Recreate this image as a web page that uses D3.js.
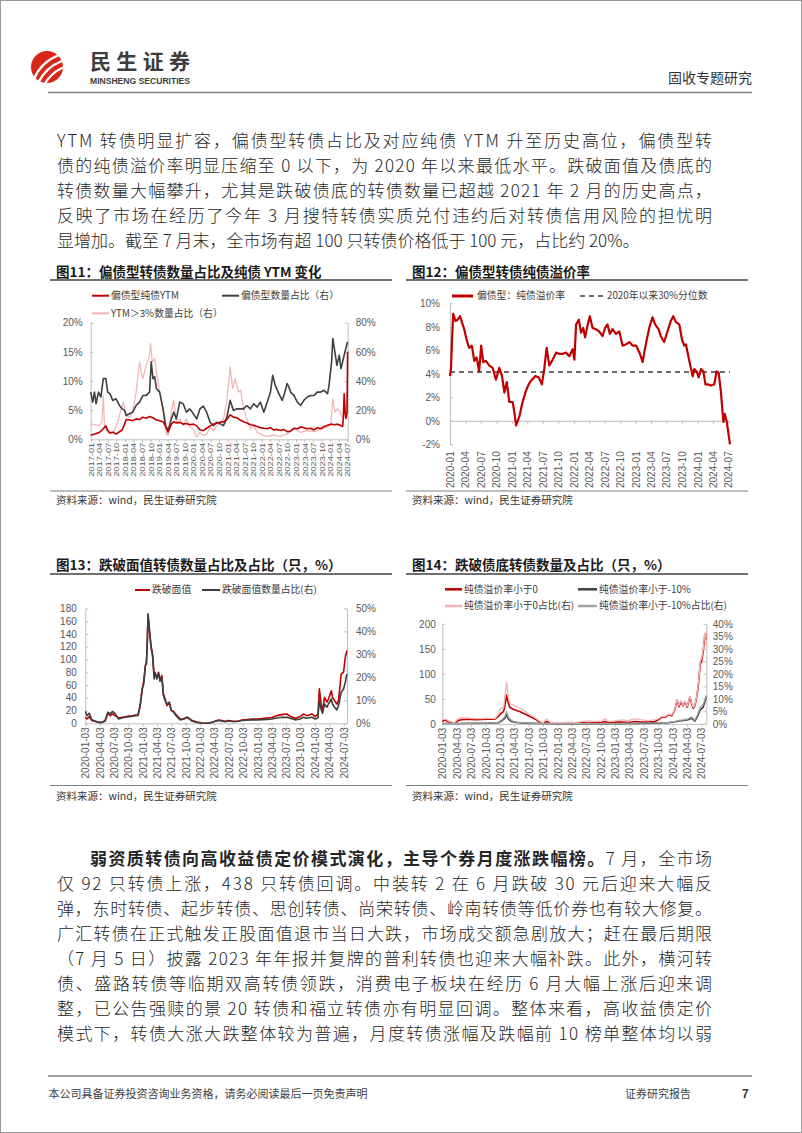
<!DOCTYPE html>
<html><head><meta charset="utf-8">
<script src="https://cdn.jsdelivr.net/npm/d3@7"></script>
<style>body{margin:0;background:#fff}svg{display:block}</style>
</head><body>
<script>
// ---------------- DATA ----------------
const c11Ticks=["2017-01","2017-04","2017-07","2017-10","2018-01","2018-04","2018-07","2018-10","2019-01","2019-04","2019-07","2019-10","2020-01","2020-04","2020-07","2020-10","2021-01","2021-04","2021-07","2021-10","2022-01","2022-04","2022-07","2022-10","2023-01","2023-04","2023-07","2023-10","2024-01","2024-04","2024-07"];
const c12Ticks=["2020-01","2020-04","2020-07","2020-10","2021-01","2021-04","2021-07","2021-10","2022-01","2022-04","2022-07","2022-10","2023-01","2023-04","2023-07","2023-10","2024-01","2024-04","2024-07"];
const c1314Ticks=["2020-01-03","2020-04-03","2020-07-03","2020-10-03","2021-01-03","2021-04-03","2021-07-03","2021-10-03","2022-01-03","2022-04-03","2022-07-03","2022-10-03","2023-01-03","2023-04-03","2023-07-03","2023-10-03","2024-01-03","2024-04-03","2024-07-03"];
const c11LeftTicks=[0,5,10,15,20], c11RightTicks=[0,20,40,60,80];
const c12Ticks_y=[-2,0,2,4,6,8,10];
const c13LeftTicks=[0,20,40,60,80,100,120,140,160,180], c13RightTicks=[0,10,20,30,40,50];
const c14LeftTicks=[0,50,100,150,200], c14RightTicks=[0,5,10,15,20,25,30,35,40];
const c12Pct30=4.15;

// 图11 偏债型纯债YTM (%, left)
const c11Red=[["2017-01-01",0.7],["2017-02-10",0.9],["2017-03-25",1.1],["2017-04-20",1.4],["2017-05-15",1.8],["2017-06-12",2.3],["2017-07-01",1.5],["2017-07-25",1.1],["2017-08-24",1.2],["2017-09-28",0.9],["2017-11-04",1.3],["2017-12-03",1.6],["2017-12-28",2.6],["2018-01-15",3.4],["2018-02-18",3.3],["2018-03-25",3.2],["2018-05-01",3.5],["2018-06-06",3.4],["2018-07-12",3.8],["2018-08-16",3.6],["2018-09-21",3.9],["2018-10-27",3.7],["2018-12-03",3.3],["2019-01-07",3.2],["2019-02-12",3.0],["2019-03-12",2.2],["2019-04-06",1.2],["2019-05-12",2.6],["2019-06-06",3.0],["2019-07-04",2.8],["2019-08-09",2.9],["2019-09-15",2.6],["2019-10-19",2.7],["2019-11-25",2.5],["2020-01-01",2.6],["2020-02-06",2.3],["2020-03-12",1.6],["2020-04-16",1.5],["2020-05-22",1.9],["2020-06-28",2.3],["2020-08-03",2.6],["2020-09-07",2.8],["2020-10-13",2.9],["2020-11-18",3.0],["2020-12-24",3.4],["2021-01-28",4.2],["2021-03-04",3.8],["2021-04-09",3.7],["2021-05-15",3.3],["2021-06-19",3.0],["2021-07-25",2.8],["2021-09-01",2.5],["2021-10-06",2.4],["2021-11-12",2.2],["2021-12-16",2.0],["2022-01-22",1.9],["2022-02-27",1.8],["2022-04-03",2.0],["2022-05-06",1.6],["2022-06-10",1.7],["2022-07-18",1.5],["2022-08-24",1.7],["2022-09-28",1.3],["2022-11-04",1.4],["2022-12-09",1.9],["2023-01-15",1.8],["2023-02-19",2.1],["2023-03-25",2.0],["2023-05-01",1.8],["2023-06-06",1.9],["2023-07-12",1.6],["2023-08-16",2.0],["2023-09-21",1.8],["2023-10-27",2.2],["2023-12-03",2.4],["2024-01-07",2.6],["2024-02-19",2.5],["2024-03-18",2.6],["2024-04-16",2.4],["2024-05-12",2.2],["2024-05-21",4.0],["2024-05-28",7.8],["2024-06-06",5.0],["2024-06-16",3.6],["2024-06-28",4.5],["2024-07-04",15.0]];
// 图11 偏债型数量占比 (%, right)
const c11Dark=[["2017-01-01",32.4],["2017-01-22",25.5],["2017-02-10",32.4],["2017-02-27",24.4],["2017-03-25",32.4],["2017-04-20",29.0],["2017-05-15",41.6],["2017-06-12",41.6],["2017-07-01",32.4],["2017-07-25",31.3],["2017-08-24",26.7],["2017-09-28",27.8],["2017-11-04",23.2],["2017-12-03",20.9],["2017-12-28",19.8],["2018-01-15",16.3],["2018-02-18",17.5],["2018-03-25",18.6],["2018-05-01",23.2],["2018-06-06",25.5],["2018-07-12",30.1],["2018-08-16",30.1],["2018-09-21",32.4],["2018-10-09",53.1],["2018-10-27",41.6],["2018-11-15",42.8],["2018-12-03",34.7],["2019-01-07",32.4],["2019-02-12",20.9],["2019-03-12",9.4],["2019-04-06",6.0],["2019-05-12",14.0],["2019-06-06",18.6],["2019-07-04",14.0],["2019-08-09",25.5],["2019-09-15",24.4],["2019-10-19",18.6],["2019-11-25",20.9],["2020-01-01",17.5],["2020-02-06",14.0],["2020-03-12",20.9],["2020-04-16",22.8],["2020-05-22",18.6],["2020-06-28",11.7],["2020-08-03",9.4],["2020-09-07",11.7],["2020-10-13",10.6],["2020-11-18",9.4],["2020-12-24",15.2],["2021-01-28",26.7],["2021-03-04",19.8],["2021-04-09",20.9],["2021-05-15",20.9],["2021-06-19",20.9],["2021-07-25",23.2],["2021-09-01",20.9],["2021-10-06",24.4],["2021-11-12",22.1],["2021-12-16",25.5],["2022-01-22",18.6],["2022-02-27",25.5],["2022-04-03",32.4],["2022-04-27",43.9],["2022-05-24",37.0],["2022-07-01",31.3],["2022-08-06",26.7],["2022-08-24",30.1],["2022-09-28",38.2],["2022-10-16",35.9],["2022-11-04",32.4],["2022-12-09",30.1],["2023-01-15",25.5],["2023-02-19",23.2],["2023-03-25",26.7],["2023-05-01",29.0],["2023-06-06",30.1],["2023-07-12",30.1],["2023-08-16",32.4],["2023-09-21",32.4],["2023-10-27",33.6],["2023-12-03",31.3],["2023-12-19",37.0],["2024-01-15",53.1],["2024-01-28",69.2],["2024-02-19",60.0],["2024-03-12",50.8],["2024-04-06",57.7],["2024-04-24",48.5],["2024-05-12",53.1],["2024-05-28",57.7],["2024-06-28",65.7],["2024-07-04",66.9]];
// 图11 YTM>3%数量占比 (%, right)
const c11Pink=[["2017-01-01",10.6],["2017-04-02",9.4],["2017-05-01",11.7],["2017-05-15",30.1],["2017-05-29",8.3],["2017-07-01",4.8],["2017-08-06",3.7],["2017-09-11",6.0],["2017-10-16",11.7],["2017-11-22",20.9],["2017-12-16",25.5],["2018-01-15",16.3],["2018-02-18",15.2],["2018-03-25",18.6],["2018-05-01",32.4],["2018-06-06",53.1],["2018-06-24",46.2],["2018-07-12",41.6],["2018-08-16",50.8],["2018-09-15",55.4],["2018-10-02",65.7],["2018-10-19",53.1],["2018-11-15",55.4],["2018-12-03",46.2],["2019-01-07",32.4],["2019-02-12",18.6],["2019-03-18",3.7],["2019-04-06",2.5],["2019-05-12",18.6],["2019-06-06",27.0],["2019-07-04",11.7],["2019-08-09",14.0],["2019-09-15",9.4],["2019-10-19",14.0],["2019-11-25",8.3],["2020-01-01",7.1],["2020-02-06",1.4],["2020-03-12",4.8],["2020-04-16",2.5],["2020-05-22",3.7],["2020-06-28",8.3],["2020-08-03",6.0],["2020-09-07",9.4],["2020-10-13",11.7],["2020-11-18",14.0],["2020-12-24",26.7],["2021-01-28",49.7],["2021-02-24",34.7],["2021-03-22",41.6],["2021-04-27",32.4],["2021-05-22",33.6],["2021-06-19",20.9],["2021-07-25",14.0],["2021-09-01",7.1],["2021-10-06",9.4],["2021-11-12",4.8],["2021-12-16",3.7],["2022-01-22",2.5],["2022-02-27",2.0],["2022-05-06",3.0],["2022-07-18",2.0],["2022-09-28",3.7],["2022-12-09",7.1],["2023-02-19",4.8],["2023-05-01",6.0],["2023-07-12",5.3],["2023-09-21",7.1],["2023-12-03",8.3],["2024-01-07",10.6],["2024-01-28",27.8],["2024-02-19",18.6],["2024-03-18",20.9],["2024-04-16",18.6],["2024-05-12",14.0],["2024-05-28",30.1],["2024-06-16",18.6],["2024-07-04",34.7]];
// 图12 偏债型：纯债溢价率 (%)
const c12Red=[["2020-01-01",3.8],["2020-01-07",4.5],["2020-01-13",6.9],["2020-01-20",9.1],["2020-02-02",8.5],["2020-02-15",8.6],["2020-02-29",8.9],["2020-03-11",8.4],["2020-03-25",7.8],["2020-04-08",6.9],["2020-04-23",6.2],["2020-05-09",6.4],["2020-05-23",5.1],["2020-06-06",5.4],["2020-06-21",4.2],["2020-07-03",6.4],["2020-07-15",5.0],["2020-07-31",5.1],["2020-08-20",4.7],["2020-09-09",4.5],["2020-09-28",3.5],["2020-10-18",4.5],["2020-11-03",3.8],["2020-11-17",2.4],["2020-12-01",3.3],["2020-12-16",1.6],["2021-01-05",1.6],["2021-01-15",0.7],["2021-01-25",-0.4],["2021-02-14",0.4],["2021-03-04",1.6],["2021-03-23",2.5],["2021-04-09",3.1],["2021-04-28",3.5],["2021-05-18",3.8],["2021-06-07",3.7],["2021-06-26",3.1],["2021-07-10",4.4],["2021-07-24",6.2],["2021-08-09",4.7],["2021-08-25",5.1],["2021-09-18",5.8],["2021-10-07",5.7],["2021-10-27",5.7],["2021-11-16",5.8],["2021-12-05",5.5],["2021-12-25",6.1],["2022-01-04",5.2],["2022-01-14",8.2],["2022-01-30",8.6],["2022-02-12",7.5],["2022-02-25",7.9],["2022-03-08",7.1],["2022-03-22",8.1],["2022-04-05",8.9],["2022-04-21",7.9],["2022-05-10",7.8],["2022-05-30",7.6],["2022-06-19",7.2],["2022-07-04",7.9],["2022-07-18",8.2],["2022-08-01",7.4],["2022-08-17",7.8],["2022-09-06",7.4],["2022-09-26",7.6],["2022-10-15",6.4],["2022-11-04",6.5],["2022-11-24",6.7],["2022-12-13",6.4],["2023-01-03",6.4],["2023-01-23",5.8],["2023-02-11",5.0],["2023-02-20",5.8],["2023-03-11",7.2],["2023-03-25",8.1],["2023-04-10",8.8],["2023-04-25",8.2],["2023-05-15",7.8],["2023-05-29",7.2],["2023-06-17",6.7],["2023-07-07",7.6],["2023-07-27",8.5],["2023-08-10",8.9],["2023-08-26",8.4],["2023-09-15",8.2],["2023-10-01",6.9],["2023-10-14",6.4],["2023-10-24",6.5],["2023-11-13",5.1],["2023-12-03",3.8],["2023-12-12",4.4],["2023-12-26",4.2],["2024-01-07",3.7],["2024-01-21",4.4],["2024-02-04",4.2],["2024-02-16",3.1],["2024-03-01",3.1],["2024-03-19",3.0],["2024-04-08",3.1],["2024-04-22",4.2],["2024-05-04",4.1],["2024-05-17",2.5],["2024-06-01",-0.1],["2024-06-09",0.6],["2024-06-21",-0.1],["2024-07-10",-2.0]];
// 图13 跌破面值 (只, left) and 占比 (%, right)
const c13Dates=["2020-01-03","2020-01-14","2020-01-28","2020-02-14","2020-03-06","2020-03-27","2020-04-17","2020-05-08","2020-05-25","2020-06-10","2020-06-24","2020-07-11","2020-08-02","2020-08-23","2020-09-13","2020-10-05","2020-10-26","2020-11-16","2020-12-03","2020-12-18","2020-12-29","2021-01-09","2021-01-19","2021-01-26","2021-02-01","2021-02-05","2021-02-14","2021-02-24","2021-03-06","2021-03-16","2021-03-22","2021-04-02","2021-04-13","2021-04-23","2021-05-04","2021-05-14","2021-05-25","2021-06-05","2021-06-20","2021-07-03","2021-07-17","2021-08-08","2021-08-29","2021-09-20","2021-10-11","2021-10-25","2021-11-12","2021-12-13","2022-01-15","2022-02-16","2022-03-18","2022-04-08","2022-04-29","2022-05-20","2022-06-11","2022-07-02","2022-08-03","2022-09-04","2022-09-25","2022-10-27","2022-11-28","2022-12-30","2023-01-31","2023-03-03","2023-04-03","2023-05-05","2023-06-06","2023-07-08","2023-07-29","2023-08-30","2023-10-01","2023-10-22","2023-11-13","2023-12-14","2024-01-05","2024-01-22","2024-01-31","2024-02-12","2024-02-21","2024-03-04","2024-03-19","2024-03-29","2024-04-16","2024-04-24","2024-05-07","2024-05-21","2024-06-01","2024-06-18","2024-07-03","2024-07-14","2024-07-24"];
const c13Count=[9.4,6.8,10.4,4.2,3.1,1.6,1.6,3.1,15.7,12,14.6,12,8.4,9.4,10.4,11.5,11.5,13,12,27.7,51,67,90,95.6,129,170,145,122,108,74.7,77.3,72,80,67,75,46,38,27.7,33,19.8,18.8,12,6.8,6.8,9.4,7.8,4.2,2.1,0.5,0,1.6,3.1,5.2,4.2,3.1,4.2,3.1,3.7,5.2,5.7,6.8,6.8,7.3,8.4,8.9,12,13.6,14.6,11,7.8,10.4,14.6,12,14.6,10.4,14.6,54,30,20,40.7,33,38,51,40.7,35.5,30,35.5,77.3,80,103,114];
const c13Ratio=[5.2,3.3,4.4,1.5,0.9,0.4,0.3,1.2,4.8,4.1,5.2,4.1,1.9,2.3,2.6,2.9,3.0,3.3,3.6,8.4,14.9,17.1,25.1,25.8,37.4,47.6,41.0,33.1,29.4,19.3,22.2,19.3,21.5,18.3,20.0,12.0,9.9,8.4,9.1,5.8,4.8,2.9,1.5,1.9,2.6,1.9,1.0,0.4,0.1,0.0,0.3,0.9,1.2,1.0,0.7,1.0,0.7,0.9,1.2,1.3,1.5,1.5,1.6,1.7,1.9,2.3,2.6,2.6,2.2,1.5,1.9,2.6,2.2,2.6,1.9,2.3,9.9,5.8,4.4,8.4,7.0,8.4,10.6,8.4,7.0,5.8,7.7,13.5,14.9,17.8,21.5];
// 图14 跌破债底
const c14Dates=["2020-01-03","2020-01-20","2020-02-10","2020-03-01","2020-03-22","2020-04-13","2020-05-04","2020-06-16","2020-07-28","2020-09-09","2020-10-21","2020-12-02","2020-12-23","2021-01-10","2021-01-25","2021-02-04","2021-02-14","2021-02-25","2021-03-06","2021-03-27","2021-04-18","2021-05-08","2021-05-30","2021-06-20","2021-07-11","2021-08-01","2021-08-22","2021-09-13","2021-10-04","2021-10-25","2021-11-16","2021-12-17","2022-01-29","2022-03-11","2022-04-22","2022-06-04","2022-07-16","2022-08-27","2022-10-09","2022-10-30","2022-11-20","2023-01-02","2023-02-13","2023-03-26","2023-05-07","2023-06-19","2023-07-31","2023-09-12","2023-10-03","2023-10-24","2023-11-15","2023-12-05","2023-12-27","2024-01-17","2024-01-30","2024-02-12","2024-02-24","2024-03-09","2024-03-20","2024-04-04","2024-04-21","2024-05-01","2024-05-12","2024-05-22","2024-06-02","2024-06-08","2024-06-17","2024-06-25","2024-07-04","2024-07-14","2024-07-25","2024-07-31","2024-08-03"];
const c14Below0=[4.6,8,4,2.6,1.3,6.6,8,9.3,8,8.6,9.3,9.3,14.6,21,24.5,37.7,57.6,41,33,29,26.5,24.5,21,18,14.6,11.3,8,2.6,1.3,4.6,1.3,0.7,0.7,1.3,0.7,2,1.3,2,2.6,4.6,2,3.3,3.3,2.6,4.6,3.3,3.3,4.6,8,13,13,18,16,28,47.7,34,44,36,44,33,54,41,31,36,51,64,87,120,124,144,177,180,167];
const c14Below0Pct=[1.6,1.9,1.2,0.8,0.5,2.1,2.4,2.3,2.1,2.1,2.3,2.1,3.8,6.6,6.2,11.5,16.8,10.2,8.2,7.5,6.9,6.2,5.6,4.5,3.6,2.9,2.0,0.9,0.5,1.9,0.7,0.4,0.4,0.7,0.5,0.9,1.2,0.9,1.2,2.0,1.1,1.2,1.6,1.3,2.0,1.6,1.3,1.6,2.0,2.9,2.9,3.8,3.6,5.8,9.8,7.2,9.3,7.4,9.1,6.9,11.1,8.5,6.6,7.5,10.6,13.5,18.1,24.8,26.1,29.4,36.0,36.7,31.4];
const c14DatesB=["2020-01-03","2020-04-13","2020-10-21","2020-12-23","2021-01-14","2021-02-04","2021-02-14","2021-02-25","2021-03-16","2021-04-18","2021-06-10","2021-09-03","2022-04-01","2022-10-30","2023-05-28","2023-09-12","2023-12-05","2024-01-17","2024-02-28","2024-04-10","2024-05-01","2024-05-22","2024-06-08","2024-06-25","2024-07-14","2024-07-25","2024-08-03"];
const c14Below10=[0.7,0.7,1.3,2,6,11.3,19.9,9.3,4.6,2.6,1.3,0.7,0,0,0.7,1.3,2,4,6,8,11.3,5.3,14.6,27.8,33,44,54];
const c14Below10Pct=[0.2,0.2,0.3,0.6,1.5,3.0,4.9,2.6,1.3,0.7,0.4,0.2,0.1,0.1,0.3,0.4,0.6,1.0,1.5,2.0,2.8,1.4,3.6,6.5,7.8,9.6,11.4];

const para1=["YTM 转债明显扩容，偏债型转债占比及对应纯债 YTM 升至历史高位，偏债型转","债的纯债溢价率明显压缩至 0 以下，为 2020 年以来最低水平。跌破面值及债底的","转债数量大幅攀升，尤其是跌破债底的转债数量已超越 2021 年 2 月的历史高点，","反映了市场在经历了今年 3 月搜特转债实质兑付违约后对转债信用风险的担忧明","显增加。截至 7 月末，全市场有超 100 只转债价格低于 100 元，占比约 20%。"];
const para2Bold="弱资质转债向高收益债定价模式演化，主导个券月度涨跌幅榜。";
const para2=["7 月，全市场","仅 92 只转债上涨，438 只转债回调。中装转 2 在 6 月跌破 30 元后迎来大幅反","弹，东时转债、起步转债、思创转债、尚荣转债、岭南转债等低价券也有较大修复。","广汇转债在正式触发正股面值退市当日大跌，市场成交额急剧放大；赶在最后期限","（7 月 5 日）披露 2023 年年报并复牌的普利转债也迎来大幅补跌。此外，横河转","债、盛路转债等临期双高转债领跌，消费电子板块在经历 6 月大幅上涨后迎来调","整，已公告强赎的景 20 转债和福立转债亦有明显回调。整体来看，高收益债定价","模式下，转债大涨大跌整体较为普遍，月度转债涨幅及跌幅前 10 榜单整体均以弱"];

// ---------------- DRAW ----------------
const F="'Noto Sans CJK SC','Noto Sans',sans-serif";
const FN="'Liberation Sans',Arial,sans-serif";
const P1=d3.timeParse("%Y-%m-%d"), P2=d3.timeParse("%Y-%m");
const RED="#c00000", DARK="#3f3f3f", PINK="#f3b3b3", GRAY="#a3a3a3", AX="#bfbfbf", TK="#595959";
const svg=d3.select("body").append("svg").attr("width",802).attr("height",1133);
svg.append("rect").attr("x",0.5).attr("y",0.5).attr("width",801).attr("height",1132).attr("fill","#fff").attr("stroke","#9a9a9a");

function txt(x,y,s,o={}){
  const t=svg.append("text").attr("x",x).attr("y",y).attr("font-family",o.family||F)
    .attr("font-size",o.size||10.5).attr("fill",o.fill||"#404040");
  if(o.weight) t.attr("font-weight",o.weight);
  if(o.anchor) t.attr("text-anchor",o.anchor);
  if(o.dy) t.attr("dy",o.dy);
  if(o.len) t.attr("textLength",o.len).attr("lengthAdjust",o.adj||"spacing");
  t.text(s); return t;
}
function hline(x1,x2,y,c,w){svg.append("line").attr("x1",x1).attr("x2",x2).attr("y1",y).attr("y2",y).attr("stroke",c).attr("stroke-width",w);}

// header
svg.append("circle").attr("cx",47).attr("cy",67).attr("r",16).attr("fill","#d9261c");
[["M34,79 Q41,62 59,55",2.4],["M38,83 Q46,67 62,61",2.4],["M44,85 Q51,73 62,68",2.2]].forEach(p=>
  svg.append("path").attr("d",p[0]).attr("fill","none").attr("stroke","#fff").attr("stroke-width",p[1]).attr("stroke-linecap","round"));
txt(90,69,"民生证券",{size:21,weight:700,fill:"#3d3d3d",len:100});
txt(90,84,"MINSHENG SECURITIES",{size:9,weight:700,fill:"#3d3d3d",len:100,family:FN,adj:"spacingAndGlyphs"});
txt(752,83,"固收专题研究",{size:14,fill:"#333",anchor:"end"});
hline(48,752,92.5,"#808080",1.6);

// paragraph 1
para1.forEach((s,i)=>{txt(57,146.5+i*25,s,{size:17,fill:"#262626",weight:300,len:i<4?655:null});});

// paragraph 2
{
  const t=svg.append("text").attr("x",90).attr("y",864.5).attr("font-family",F).attr("font-size",17).attr("fill","#262626")
    .attr("textLength",622).attr("lengthAdjust","spacing");
  t.append("tspan").attr("font-weight",700).text(para2Bold);
  t.append("tspan").attr("font-weight",300).text(para2[0]);
  for(let i=1;i<para2.length;i++) txt(57,864.5+i*25.1,para2[i],{size:17,fill:"#262626",weight:300,len:655});
}

// footer
hline(48,752,1076,"#808080",1.4);
txt(48.5,1098,"本公司具备证券投资咨询业务资格，请务必阅读最后一页免责声明",{size:11,fill:"#404040"});
txt(625,1098,"证券研究报告",{size:11,fill:"#404040"});
txt(742,1098,"7",{size:12,fill:"#333",weight:700,family:FN});

// chart frames
function frame(x0,x1,titleY,title,ulY,srcLineY,srcY){
  txt(x0+6,titleY,title,{size:13.5,weight:700,fill:"#1a1a1a"});
  hline(x0,x1,ulY,"#404040",1.5);
  hline(x0,x1,srcLineY,"#7f7f7f",1);
  txt(x0+6,srcY,"资料来源：wind，民生证券研究院",{size:10.5,fill:"#333"});
}
frame(50,392,276.5,"图11：偏债型转债数量占比及纯债 YTM 变化",280,491,504);
frame(406,748,276.5,"图12：偏债型转债纯债溢价率",280,491,504);
frame(50,392,569.5,"图13：跌破面值转债数量占比及占比（只，%）",574,785.5,800);
frame(406,748,569.5,"图14：跌破债底转债数量及占比（只，%）",574,785.5,800);

function styleAxis(g){
  g.attr("font-family",FN).attr("font-size",10);
  g.selectAll("path.domain").attr("stroke",AX);
  g.selectAll(".tick line").attr("stroke",AX);
  g.selectAll("text").attr("fill",TK);
  return g;
}
function yAxis(side,x,scale,ticks,fmt,pad){
  const ax=(side==="left"?d3.axisLeft(scale):d3.axisRight(scale)).tickValues(ticks).tickFormat(fmt)
    .tickSizeInner(-3).tickSizeOuter(0).tickPadding(pad);
  return styleAxis(svg.append("g").attr("transform",`translate(${x},0)`).call(ax));
}
function xAxis(y,scale,tickDates,labels,gap,showLabels,tick){
  const ax=d3.axisBottom(scale).tickValues(tickDates).tickSizeInner(tick).tickSizeOuter(0)
    .tickFormat((d,i)=>showLabels?labels[i]:"");
  const g=styleAxis(svg.append("g").attr("transform",`translate(0,${y})`).call(ax));
  g.selectAll("text").attr("transform","rotate(-90)").attr("x",-gap).attr("y",0).attr("dy","0.35em").attr("text-anchor","end");
  return g;
}
function line(data,xs,ys,color,w,dash){
  svg.append("path").datum(data).attr("fill","none").attr("stroke",color).attr("stroke-width",w)
    .attr("stroke-linejoin","round").attr("stroke-dasharray",dash||null)
    .attr("d",d3.line().x(d=>xs(d[0])).y(d=>ys(d[1])));
}
function legend(x,y,len,color,w,label,gap,dash){
  svg.append("line").attr("x1",x).attr("x2",x+len).attr("y1",y).attr("y2",y).attr("stroke",color).attr("stroke-width",w).attr("stroke-dasharray",dash||null);
  txt(x+len+gap,y,label,{size:9.8,dy:"0.35em",fill:"#404040"});
}
const pct=d=>d+"%";
const pairs=(arr)=>arr.map(d=>[P1(d[0]),d[1]]);
const zip=(dates,vals)=>dates.map((d,i)=>[P1(d),vals[i]]);

// ---- Chart 11 ----
{
  const x=d3.scaleTime().domain([P1("2017-01-01"),P1("2024-07-05")]).range([90.7,347.7]);
  const yL=d3.scaleLinear().domain([0,20]).range([439.3,322.7]);
  const yR=d3.scaleLinear().domain([0,80]).range([439.3,322.7]);
  yAxis("left",90.7,yL,c11LeftTicks,pct,8);
  yAxis("right",347.7,yR,c11RightTicks,pct,8);
  const gx=xAxis(439.3,x,c11Ticks.map(P2),c11Ticks,3.5,true,3);
  gx.selectAll("text").attr("font-size",7.3).attr("textLength",34).attr("lengthAdjust","spacingAndGlyphs");
  line(pairs(c11Pink),x,yR,PINK,1.2);
  line(pairs(c11Dark),x,yR,DARK,1.6);
  line(pairs(c11Red),x,yL,RED,1.6);
  legend(92,295.7,17,RED,2,"偏债型纯债YTM",2);
  legend(222,295.7,17,DARK,2,"偏债型数量占比（右）",2);
  legend(92,313.3,17,PINK,2,"YTM＞3%数量占比（右）",2);
}
// ---- Chart 12 ----
{
  const x=d3.scaleTime().domain([P1("2020-01-01"),P1("2024-07-10")]).range([450,730]);
  const y=d3.scaleLinear().domain([-2,10]).range([444.3,303.3]);
  yAxis("left",450,y,c12Ticks_y,pct,10);
  xAxis(y(0),x,c12Ticks.map(P2),c12Ticks,0,false,3);
  const lab=xAxis(444.3,x,c12Ticks.map(P2),c12Ticks,7,true,0);
  lab.select("path.domain").remove();
  line([[x.domain()[0],c12Pct30],[x.domain()[1],c12Pct30]],x,y,DARK,1.4,"5,4");
  line(pairs(c12Red),x,y,RED,2.2);
  legend(452,296,21,RED,3,"偏债型：纯债溢价率",4);
  legend(580,296,25,DARK,1.5,"2020年以来30%分位数",2,"5,4");
}
// ---- Chart 13 ----
{
  const x=d3.scaleTime().domain([P1("2020-01-03"),P1("2024-07-25")]).range([85.3,347]);
  const yL=d3.scaleLinear().domain([0,180]).range([723.3,608.4]);
  const yR=d3.scaleLinear().domain([0,50]).range([723.3,608.4]);
  yAxis("left",85.3,yL,c13LeftTicks,d=>d,8.5);
  yAxis("right",347,yR,c13RightTicks,pct,9);
  xAxis(723.3,x,c1314Ticks.map(P1),c1314Ticks,4,true,3);
  line(zip(c13Dates,c13Count),x,yL,RED,1.6);
  line(zip(c13Dates,c13Ratio),x,yR,DARK,1.6);
  legend(135,590,15,RED,2,"跌破面值",2);
  legend(202,590,18,DARK,2,"跌破面值数量占比(右)",2);
}
// ---- Chart 14 ----
{
  const x=d3.scaleTime().domain([P1("2020-01-03"),P1("2024-08-03")]).range([442.3,706.3]);
  const yL=d3.scaleLinear().domain([0,200]).range([723.8,623.8]);
  const yR=d3.scaleLinear().domain([0,40]).range([723.8,623.8]);
  yAxis("left",442.3,yL,c14LeftTicks,d=>d,6.5);
  yAxis("right",706.3,yR,c14RightTicks,pct,6.5);
  xAxis(723.8,x,c1314Ticks.map(P1),c1314Ticks,4,true,3);
  line(zip(c14Dates,c14Below0),x,yL,RED,1.6);
  line(zip(c14DatesB,c14Below10),x,yL,DARK,1.6);
  line(zip(c14Dates,c14Below0Pct),x,yR,PINK,1.3);
  line(zip(c14DatesB,c14Below10Pct),x,yR,GRAY,1.3);
  legend(445,589.3,17,RED,2.5,"纯债溢价率小于0",2);
  legend(578,589.3,19,DARK,2.5,"纯债溢价率小于-10%",2);
  legend(445,606,17,PINK,2.5,"纯债溢价率小于0占比(右)",2);
  legend(578,606,19,GRAY,2.5,"纯债溢价率小于-10%占比(右)",2);
}
</script>
</body></html>
